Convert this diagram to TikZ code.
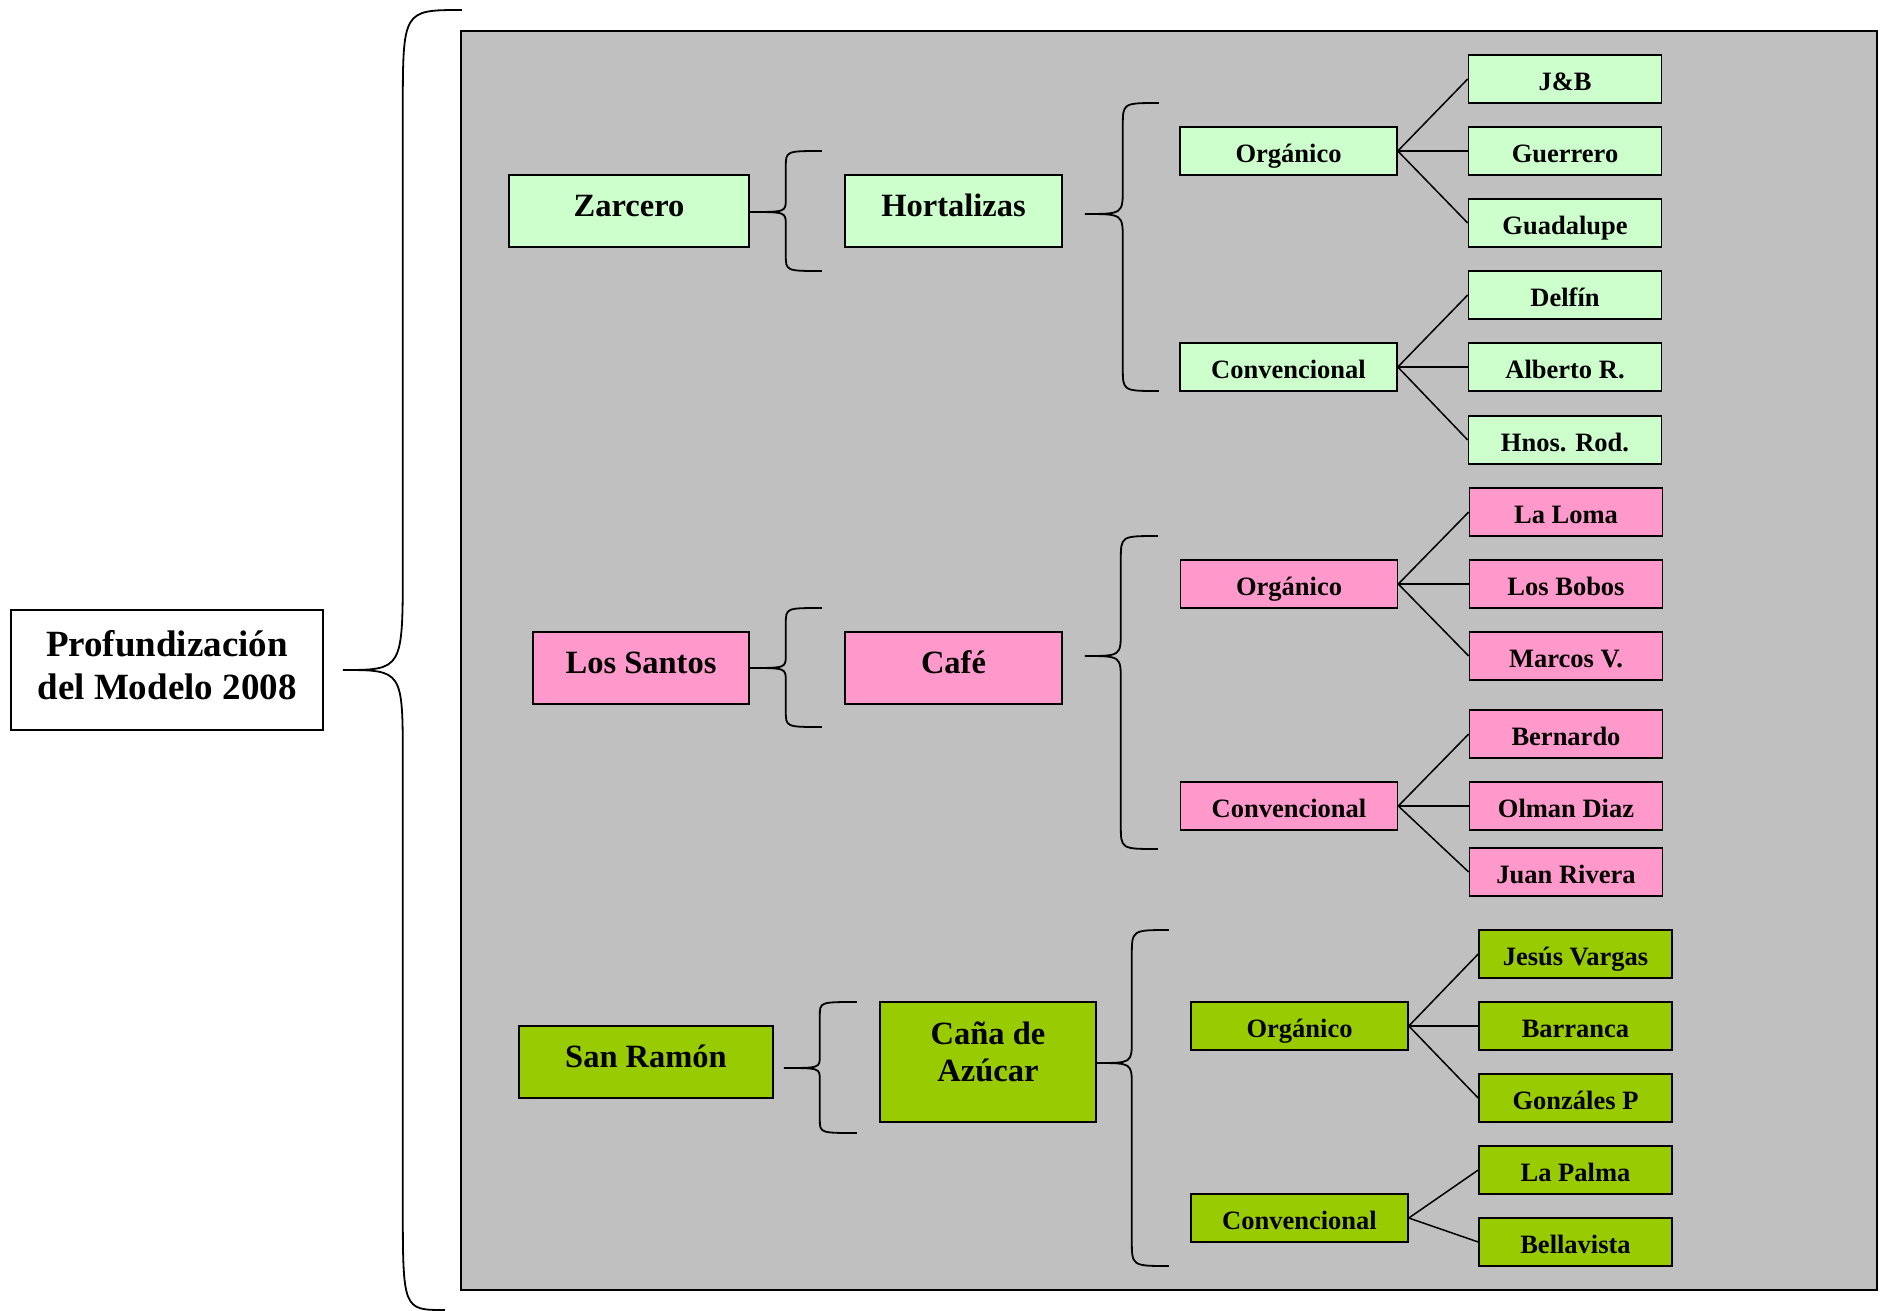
\documentclass[tikz,border=0pt]{standalone}
\usepackage{fontspec}
\setmainfont{Liberation Serif}
\definecolor{lgreen}{HTML}{CCFFCC}
\definecolor{pinkc}{HTML}{FF99CC}
\definecolor{olivc}{HTML}{99CC00}
\definecolor{grayc}{HTML}{C0C0C0}
\newcommand\mybrace[7]{%
  \draw[brc, shift={(#1)}] (#3,#4) .. controls (#2,#4) .. (#2,#4+#6) -- (#2,-#7)
    .. controls (#2,0) .. (0,0) .. controls (#2,0) .. (#2,#7) -- (#2,#5-#6)
    .. controls (#2,#5) .. (#3,#5);}
\begin{document}
\begin{tikzpicture}[x=1pt,y=-1pt,
  box/.style={draw=black, line width=1.6pt, inner sep=0pt, align=center, font=\bfseries},
  big/.style={box, font=\fontsize{32.5}{38}\selectfont\bfseries, minimum height=72pt,
    text height=22pt, text depth=11pt},
  small/.style={box, font=\fontsize{26.5}{30}\selectfont\bfseries, minimum height=48pt,
    text height=24pt, text depth=2pt},
  leaf/.style={small, minimum width=193pt},
  mid/.style={small, minimum width=217pt},
  lg/.style={fill=lgreen}, pk/.style={fill=pinkc}, gr/.style={fill=olivc},
  brc/.style={line width=1.8pt},
  conn/.style={line width=1.5pt}]
\useasboundingbox (0,0) rectangle (1883,1310);
\fill[white] (0,0) rectangle (1883,1310);
\draw[fill=grayc, line width=1.8pt] (461,31) rectangle (1877,1290);

% root
\node[box, fill=white, minimum width=312pt, minimum height=120pt] (prof) at (167,670) {};
\node[font=\fontsize{37}{42.5}\selectfont\bfseries, align=center, inner sep=0pt]
  (proft) at ([yshift=5pt]prof.center) {Profundización\\del Modelo 2008};
\coordinate (bigtip) at ([xshift=19pt]prof.east);
\draw[brc, shift={(bigtip)}] (119,-660) .. controls (60,-660) .. (60,-558) -- (60,-105)
  .. controls (60,0) .. (0,0) .. controls (60,0) .. (60,92) -- (60,532)
  .. controls (60,640) .. (102,640);

% Zarcero
\node[big, lg, minimum width=240pt] (zar) at (629,211) {Zarcero};
\node[big, lg, minimum width=217pt] (hort) at (953.5,211) {Hortalizas};
\node[mid, lg] (zorg) at (1288.5,151) {Orgánico};
\node[mid, lg] (zcon) at (1288.5,367) {Convencional};
\node[leaf, lg] (jb) at (1565,79) {J\&B};
\node[leaf, lg] (guer) at (1565,151) {Guerrero};
\node[leaf, lg] (guad) at (1565,223) {Guadalupe};
\node[leaf, lg] (delf) at (1565,295) {Delfín};
\node[leaf, lg] (alb) at (1565,367) {Alberto R.};
\node[leaf, lg] (hnos) at (1565,440) {Hnos. Rod.};
\coordinate (ztip) at ([yshift=-1pt]zar.east);
\mybrace{ztip}{36}{72}{-61}{59}{16}{13}
\coordinate (htip) at ([xshift=22pt,yshift=-3pt]hort.east);
\mybrace{htip}{38}{74}{-111}{177}{23}{26}
\foreach \l in {jb,guer,guad} \draw[conn] (zorg.east) -- (\l.west);
\foreach \l in {delf,alb,hnos} \draw[conn] (zcon.east) -- (\l.west);

% Los Santos
\node[big, pk, minimum width=216pt] (ls) at (641,668) {Los Santos};
\node[big, pk, minimum width=217pt] (cafe) at (953.5,668) {Café};
\node[mid, pk] (lorg) at (1289,584) {Orgánico};
\node[mid, pk] (lcon) at (1289,806) {Convencional};
\node[leaf, pk] (lal) at (1566,512) {La Loma};
\node[leaf, pk] (lbob) at (1566,584) {Los Bobos};
\node[leaf, pk] (mar) at (1566,656) {Marcos V.};
\node[leaf, pk] (ber) at (1566,734) {Bernardo};
\node[leaf, pk] (olm) at (1566,806) {Olman Diaz};
\node[leaf, pk] (jua) at (1566,872) {Juan Rivera};
\coordinate (lstip) at (ls.east);
\mybrace{lstip}{36}{72}{-60}{59}{16}{13}
\coordinate (ctip) at ([xshift=22pt,yshift=12pt]cafe.east);
\mybrace{ctip}{36}{73}{-120}{193}{24}{25}
\foreach \l in {lal,lbob,mar} \draw[conn] (lorg.east) -- (\l.west);
\foreach \l in {ber,olm,jua} \draw[conn] (lcon.east) -- (\l.west);

% San Ramon
\node[big, gr, minimum width=254pt] (sr) at (646,1062) {San Ramón};
\node[box, gr, minimum width=216pt, minimum height=120pt] (cana) at (988,1062) {};
\node[font=\fontsize{32.5}{37.5}\selectfont\bfseries, align=center, inner sep=0pt] (canat) at ([yshift=10pt]cana.center) {Caña de\\Azúcar};
\node[mid, gr] (sorg) at (1299.5,1026) {Orgánico};
\node[mid, gr] (scon) at (1299.5,1218) {Convencional};
\node[leaf, gr] (jes) at (1575.5,954) {Jesús Vargas};
\node[leaf, gr] (bar) at (1575.5,1026) {Barranca};
\node[leaf, gr] (gon) at (1575.5,1098) {Gonzáles P};
\node[leaf, gr] (lpa) at (1575.5,1170) {La Palma};
\node[leaf, gr] (bel) at (1575.5,1242) {Bellavista};
\coordinate (stip) at ([xshift=10pt,yshift=-6pt]sr.east);
\mybrace{stip}{36}{73}{-66}{65}{14}{12}
\coordinate (catip) at ([yshift=-1pt]cana.east);
\mybrace{catip}{35}{72}{-133}{203}{26}{23}
\foreach \l in {jes,bar,gon} \draw[conn] (sorg.east) -- (\l.west);
\foreach \l in {lpa,bel} \draw[conn] (scon.east) -- (\l.west);
\end{tikzpicture}
\end{document}
